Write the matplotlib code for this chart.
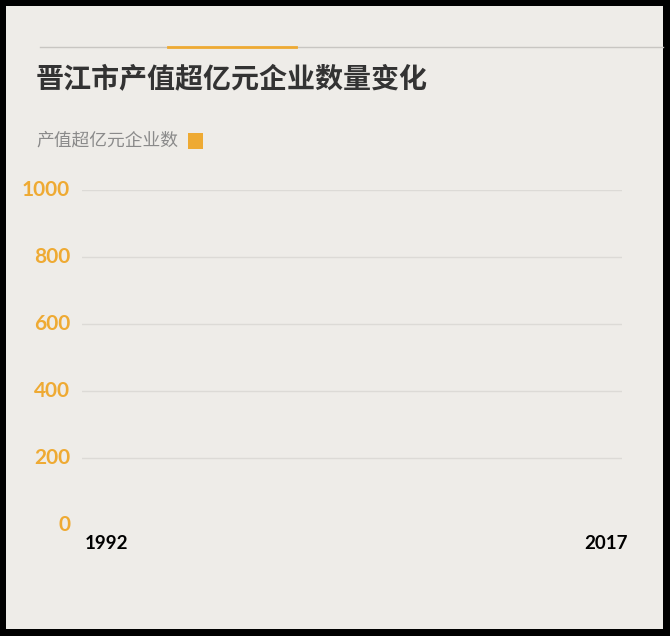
import numpy as np
import matplotlib.pyplot as plt
from matplotlib.patches import Rectangle
from matplotlib.lines import Line2D

# data: frame of the animated chart, bars not yet grown
years = list(range(1992, 2018))
counts = [0] * len(years)
y_ticks = [0, 200, 400, 600, 800, 1000]
title = '晋江市产值超亿元企业数量变化'
series_name = '产值超亿元企业数'

W, H = 670, 636
orange = '#eeaa33'
bg = '#eeece8'

plt.rcParams['font.family'] = ['Noto Sans CJK SC', 'DejaVu Sans']

fig = plt.figure(figsize=(W / 100, H / 100), dpi=100)
fig.patch.set_facecolor('black')

def fx(px):
    return px / W

def fy(py):
    return 1 - py / H

# light card inside black frame
fig.patches.append(Rectangle((fx(6), fy(629)), fx(663) - fx(6), fy(6) - fy(629),
                             transform=fig.transFigure, facecolor=bg, edgecolor='none', zorder=-5))

# header rules
fig.add_artist(Line2D([fx(40), fx(663)], [fy(47), fy(47)], color='#c8c6c2', lw=1, transform=fig.transFigure))
fig.add_artist(Line2D([fx(168), fx(296)], [fy(46.5), fy(46.5)], color=orange, lw=2, transform=fig.transFigure))

fig.text(fx(36), fy(80), title, fontsize=20.2, fontweight='bold', color='#333333', va='center', ha='left')
fig.text(fx(36), fy(141), series_name, fontsize=12.8, color='#8a8a8a', va='center', ha='left')
fig.patches.append(Rectangle((fx(188), fy(149)), fx(203) - fx(188), fy(133) - fy(149),
                             transform=fig.transFigure, facecolor=orange, edgecolor='none'))

ax = fig.add_axes([fx(82), fy(525), fx(622) - fx(82), fy(190) - fy(525)], zorder=2)
ax.set_facecolor('none')
x = np.arange(len(years))
ax.bar(x, counts, width=0.7, color=orange)
ax.set_ylim(0, 1000)
ax.set_xlim(-1.2, 25.8)
ax.set_yticks(y_ticks)
ax.set_yticklabels([str(v) for v in y_ticks], family=['Lato', 'DejaVu Sans'], fontsize=15,
                   fontweight='bold', color=orange)
ax.set_xticks([0, len(years) - 1])
ax.set_xticklabels([str(years[0]), str(years[-1])], family=['Lato', 'DejaVu Sans'], fontsize=13.5,
                   fontweight='bold', color='black')
ax.tick_params(axis='y', length=0, pad=8.5)
ax.tick_params(axis='x', length=0, pad=7.5)
for lbl in ax.get_yticklabels():
    lbl.set_va('center')
for v in y_ticks[1:]:
    ax.axhline(v, color='#dcdad6', lw=1, zorder=0)
for s in ax.spines.values():
    s.set_visible(False)

fig.savefig('out.png', dpi=100, facecolor=fig.get_facecolor())
